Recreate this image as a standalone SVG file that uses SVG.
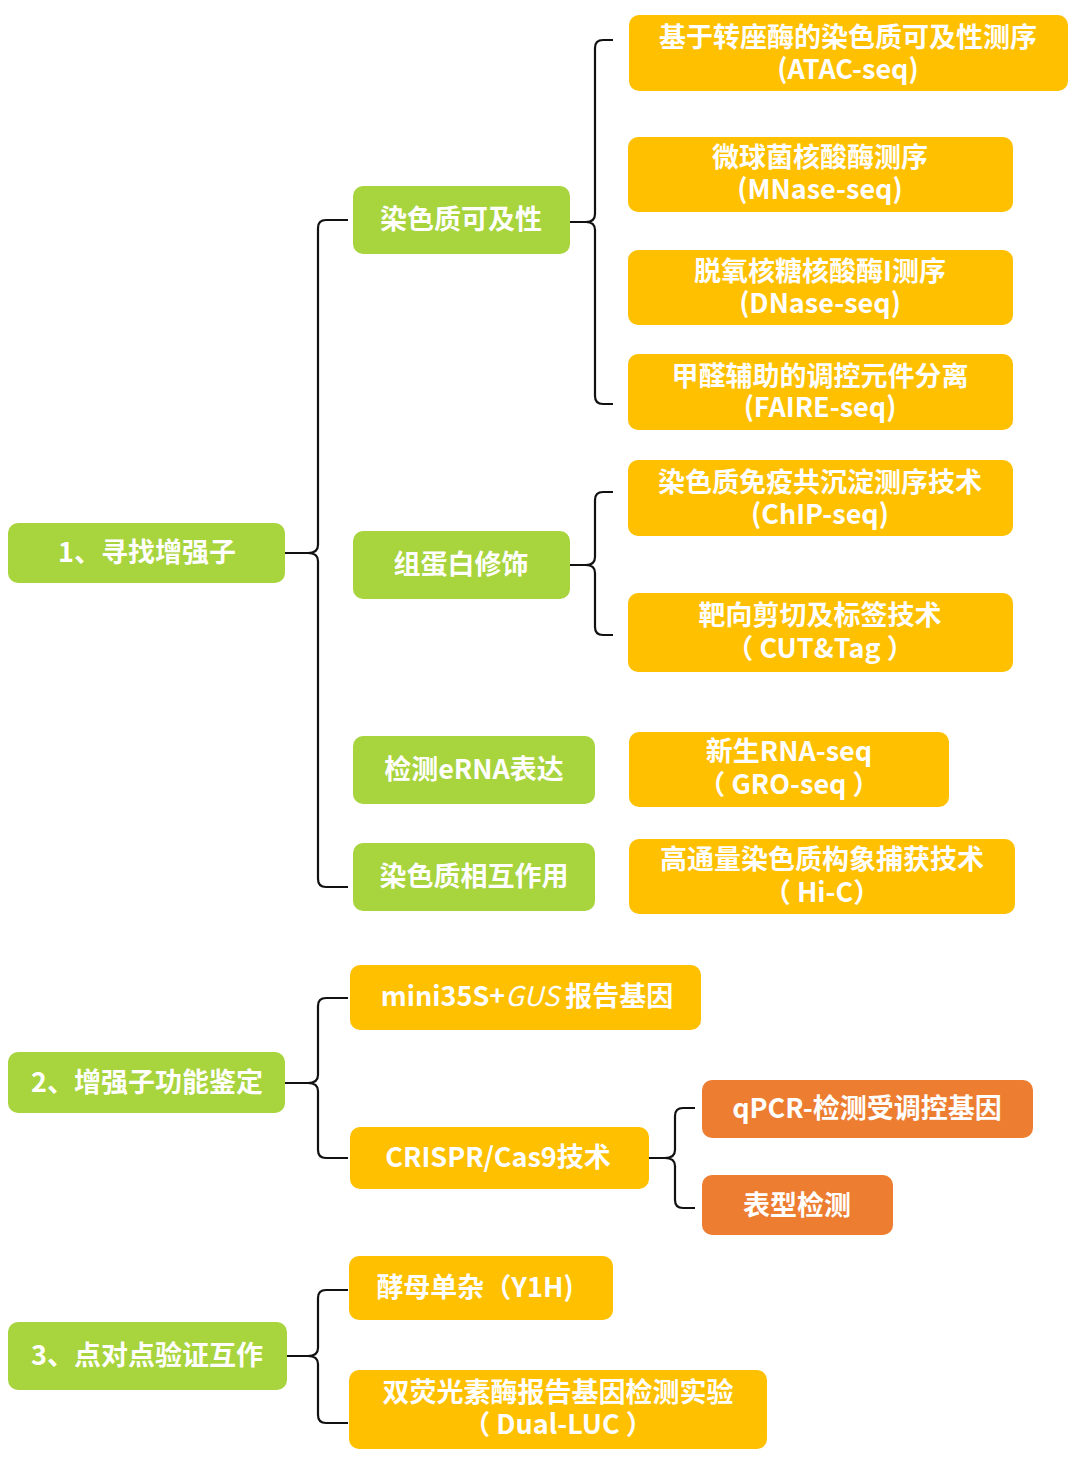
<svg xmlns="http://www.w3.org/2000/svg" width="1080" height="1466" viewBox="0 0 1080 1466">
<style>
.g{fill:#A8D43E}
.y{fill:#FFC000}
.o{fill:#ED7D31}
text{font-family:"Noto Sans CJK SC","Open Sans",sans-serif;font-weight:bold;fill:#FFFFFF;text-anchor:middle;font-size:27px}
.c{fill:none;stroke:#111;stroke-width:2.2}
</style>
<rect width="1080" height="1466" fill="#FFFFFF"/>
<g id="connectors">
<path class="c" d="M348 220 H326 Q318 220 318 228 V545 Q318 553 308 553 H285 M308 553 Q318 553 318 561 V879 Q318 887 326 887 H348"/>
<path class="c" d="M613 40 H603 Q595 40 595 48 V214 Q595 222 586 222 H570 M586 222 Q595 222 595 230 V396 Q595 404 603 404 H613"/>
<path class="c" d="M613 492 H603 Q595 492 595 500 V557 Q595 565 586 565 H570 M586 565 Q595 565 595 573 V627 Q595 635 603 635 H613"/>
<path class="c" d="M348 998 H326 Q318 998 318 1006 V1075 Q318 1083 308 1083 H285 M308 1083 Q318 1083 318 1091 V1150 Q318 1158 326 1158 H348"/>
<path class="c" d="M695 1108 H683 Q675 1108 675 1116 V1150 Q675 1158 665 1158 H649 M665 1158 Q675 1158 675 1166 V1200 Q675 1208 683 1208 H695"/>
<path class="c" d="M348 1290 H326 Q318 1290 318 1298 V1348 Q318 1356 308 1356 H287 M308 1356 Q318 1356 318 1364 V1415 Q318 1423 326 1423 H348"/>
</g>
<g id="n1"><rect class="g" x="8" y="523" width="277" height="60" rx="10"/><text x="147" y="562">1、寻找增强子</text></g>
<g id="n2"><rect class="g" x="8" y="1052" width="277" height="61" rx="10"/><text x="147" y="1092">2、增强子功能鉴定</text></g>
<g id="n3"><rect class="g" x="8" y="1322" width="279" height="68" rx="10"/><text x="147" y="1365">3、点对点验证互作</text></g>
<g id="n11"><rect class="g" x="353" y="186" width="217" height="68" rx="10"/><text x="461" y="229">染色质可及性</text></g>
<g id="n12"><rect class="g" x="353" y="531" width="217" height="68" rx="10"/><text x="461" y="574">组蛋白修饰</text></g>
<g id="n13"><rect class="g" x="353" y="736" width="242" height="68" rx="10"/><text x="474" y="779">检测eRNA表达</text></g>
<g id="n14"><rect class="g" x="353" y="843" width="242" height="68" rx="10"/><text x="474" y="886">染色质相互作用</text></g>
<g id="n111"><rect class="y" x="629" y="15" width="439" height="76" rx="10"/><text x="848" y="47">基于转座酶的染色质可及性测序</text><text x="848" y="79">(ATAC-seq)</text></g>
<g id="n112"><rect class="y" x="628" y="137" width="385" height="75" rx="10"/><text x="820" y="167">微球菌核酸酶测序</text><text x="820" y="199">(MNase-seq)</text></g>
<g id="n113"><rect class="y" x="628" y="250" width="385" height="75" rx="10"/><text x="820" y="281">脱氧核糖核酸酶I测序</text><text x="820" y="313">(DNase-seq)</text></g>
<g id="n114"><rect class="y" x="628" y="354" width="385" height="76" rx="10"/><text x="820" y="386">甲醛辅助的调控元件分离</text><text x="820" y="417">(FAIRE-seq)</text></g>
<g id="n121"><rect class="y" x="628" y="460" width="385" height="76" rx="10"/><text x="820" y="492">染色质免疫共沉淀测序技术</text><text x="820" y="524">(ChIP-seq)</text></g>
<g id="n122"><rect class="y" x="628" y="593" width="385" height="79" rx="10"/><text x="820" y="625">靶向剪切及标签技术</text><text x="820" y="658">（ CUT&amp;Tag ）</text></g>
<g id="n131"><rect class="y" x="629" y="732" width="320" height="75" rx="10"/><text x="789" y="761">新生RNA-seq</text><text x="789" y="794">（ GRO-seq ）</text></g>
<g id="n141"><rect class="y" x="629" y="839" width="386" height="75" rx="10"/><text x="822" y="869">高通量染色质构象捕获技术</text><text x="822" y="902">（ Hi-C）</text></g>
<g id="n21"><rect class="y" x="350" y="965" width="351" height="65" rx="10"/><text x="527" y="1006">mini35S+<tspan font-style="italic" font-weight="normal">GUS</tspan> 报告基因</text></g>
<g id="n22"><rect class="y" x="350" y="1127" width="299" height="62" rx="10"/><text x="498" y="1167">CRISPR/Cas9技术</text></g>
<g id="n221"><rect class="o" x="702" y="1080" width="331" height="58" rx="10"/><text x="867" y="1118">qPCR-检测受调控基因</text></g>
<g id="n222"><rect class="o" x="702" y="1175" width="191" height="60" rx="10"/><text x="797" y="1215">表型检测</text></g>
<g id="n31"><rect class="y" x="349" y="1256" width="264" height="64" rx="10"/><text x="475" y="1297">酵母单杂（Y1H)</text></g>
<g id="n32"><rect class="y" x="349" y="1370" width="418" height="79" rx="10"/><text x="558" y="1402">双荧光素酶报告基因检测实验</text><text x="558" y="1434">（ Dual-LUC ）</text></g>
</svg>
